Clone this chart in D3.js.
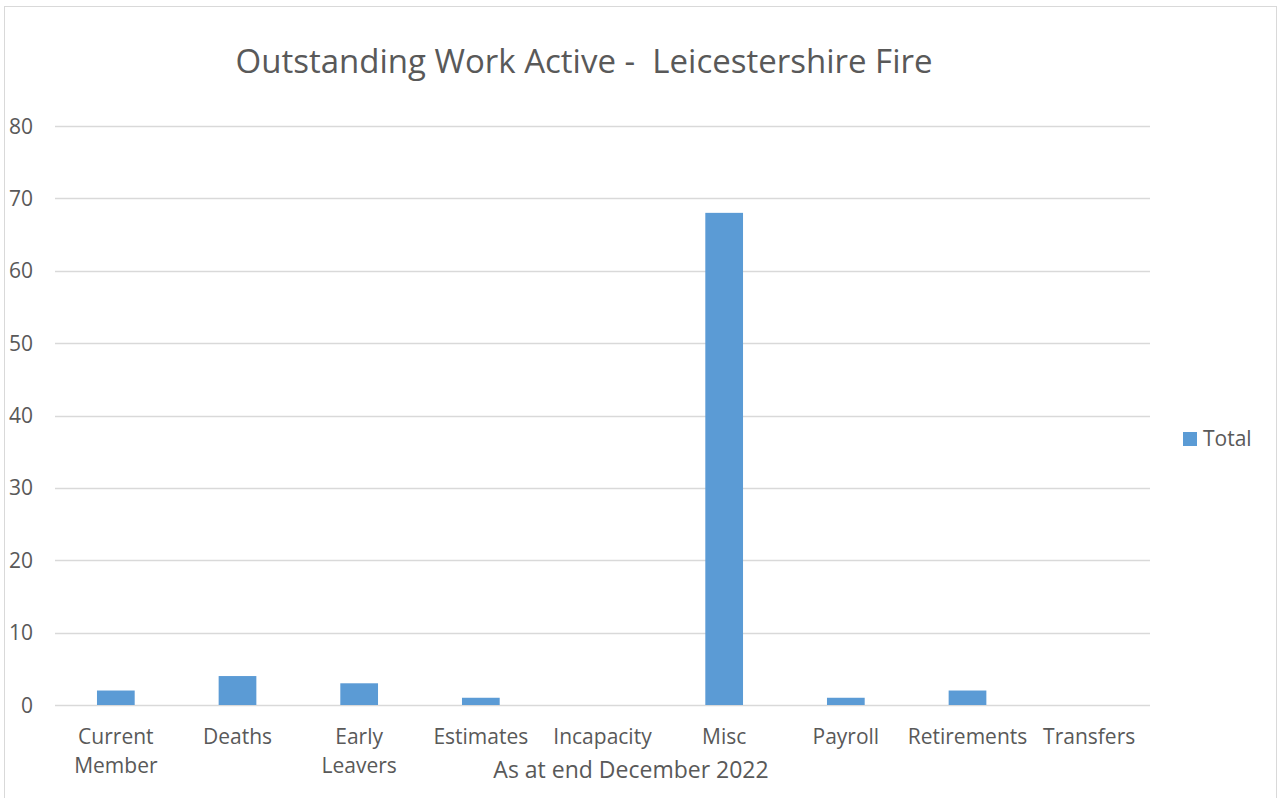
<!DOCTYPE html>
<html>
<head>
<meta charset="utf-8">
<script src="https://cdn.jsdelivr.net/npm/d3@7"></script>
<style>
  body { margin: 0; background: #fff; }
  svg text { font-family: "Open Sans", sans-serif; fill: #595959; white-space: pre; }
</style>
</head>
<body>
<svg id="chart" width="1279" height="798"></svg>
<script>
// data
let categories = ["Current Member", "Deaths", "Early Leavers", "Estimates", "Incapacity",
                  "Misc", "Payroll", "Retirements", "Transfers"];
let totals = [2, 4, 3, 1, 0, 68, 1, 2, 0];
let yTicks = [0, 10, 20, 30, 40, 50, 60, 70, 80];
let seriesName = "Total";

let svg = d3.select("#chart");

// outer chart frame
svg.append("rect")
    .attr("x", 4.5).attr("y", 6.5)
    .attr("width", 1272).attr("height", 800)
    .attr("fill", "none")
    .attr("stroke", "#d9d9d9");

let plot = { left: 55, right: 1150, top: 126, bottom: 705 };

let x = d3.scaleBand()
    .domain(categories)
    .range([plot.left, plot.right])
    .paddingInner(0.69)
    .paddingOuter(0.345);

let y = d3.scaleLinear()
    .domain([0, 80])
    .range([plot.bottom, plot.top]);

// gridlines
svg.append("g")
    .selectAll("line")
    .data(yTicks)
    .join("line")
    .attr("x1", plot.left).attr("x2", plot.right)
    .attr("y1", d => Math.round(y(d)) + 0.5)
    .attr("y2", d => Math.round(y(d)) + 0.5)
    .attr("stroke", "#d9d9d9")
    .attr("stroke-width", 1.3);

// y tick labels
svg.append("g")
    .selectAll("text")
    .data(yTicks)
    .join("text")
    .attr("x", 33)
    .attr("y", d => y(d) + 7.5)
    .attr("text-anchor", "end")
    .style("font-size", "21px")
    .text(d => d);

// bars
svg.append("g")
    .selectAll("rect")
    .data(totals)
    .join("rect")
    .attr("x", (d, i) => x(categories[i]))
    .attr("width", x.bandwidth())
    .attr("y", d => y(d))
    .attr("height", d => y(0) - y(d))
    .attr("fill", "#5b9bd5");

// x labels, wrapped at the space like the original
let wraps = {"Current Member": ["Current", "Member"], "Early Leavers": ["Early", "Leavers"]};
svg.append("g")
    .selectAll("text")
    .data(categories)
    .join("text")
    .attr("text-anchor", "middle")
    .style("font-size", "21px")
    .each(function (d) {
        let lines = wraps[d] || [d];
        let self = d3.select(this);
        lines.forEach((ln, k) => {
            self.append("tspan")
                .attr("x", x(d) + x.bandwidth() / 2)
                .attr("y", 744 + k * 28.5)
                .text(ln);
        });
    });

// title
svg.append("text")
    .attr("x", 584).attr("y", 73)
    .attr("text-anchor", "middle")
    .style("font-size", "33px")
    .text("Outstanding Work Active -  Leicestershire Fire");

// axis title
svg.append("text")
    .attr("x", 631).attr("y", 778)
    .attr("text-anchor", "middle")
    .style("font-size", "23px")
    .text("As at end December 2022");

// legend
let legend = svg.append("g").attr("transform", "translate(1183,432)");
legend.append("rect")
    .attr("width", 14).attr("height", 14)
    .attr("fill", "#5b9bd5");
legend.append("text")
    .attr("x", 20).attr("y", 14)
    .style("font-size", "21px")
    .text(seriesName);
</script>
</body>
</html>
